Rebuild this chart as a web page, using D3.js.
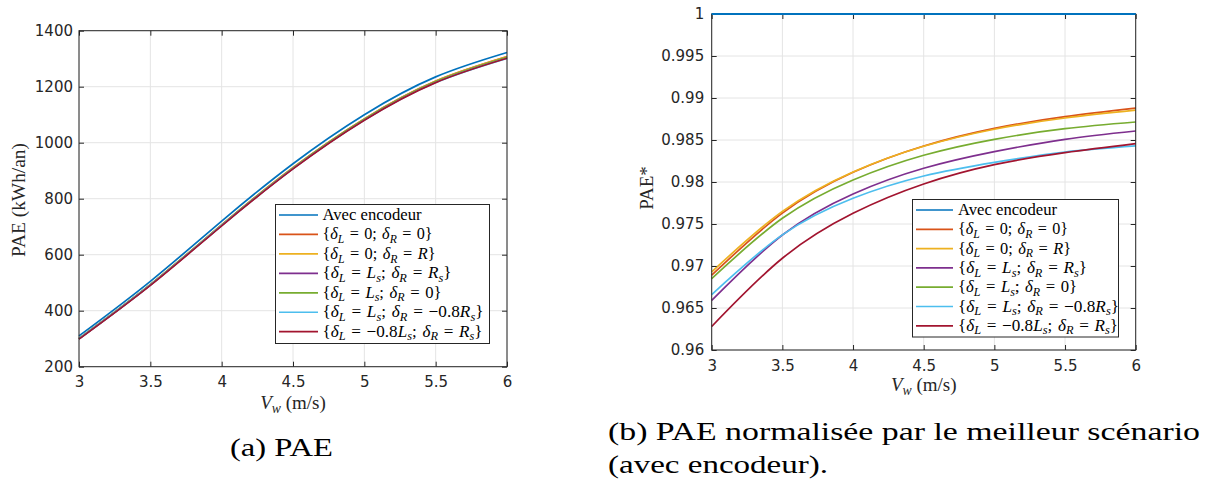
<!DOCTYPE html>
<html>
<head>
<meta charset="utf-8">
<script src="https://cdn.jsdelivr.net/npm/d3@7"></script>
<style>
  html, body { margin: 0; padding: 0; background: #fff; }
  svg { display: block; }
</style>
</head>
<body>
<svg id="chart" width="1211" height="480"></svg>
<script>
// ---------------- DATA ----------------
const windSpeeds = [3, 3.5, 4, 4.5, 5, 5.5, 6];

// (a) PAE in kWh/an
const paeAvecEncodeur = [310, 505, 720, 925, 1100, 1235, 1322];
const paeL0R0        = [300.4, 493.0, 706.4, 910.5, 1085.0, 1219.9, 1307.2];
const paeL0RR        = [300.5, 493.1, 706.5, 910.4, 1084.9, 1219.7, 1306.9];
const paeLsRs        = [299.4, 491.7, 704.6, 908.0, 1082.0, 1216.6, 1303.6];
const paeLs0         = [300.2, 492.7, 705.8, 909.4, 1083.6, 1218.1, 1305.0];
const paeLsM08Rs     = [299.6, 491.7, 704.2, 907.2, 1080.6, 1214.7, 1301.2];
const paeM08LsRs     = [298.5, 490.3, 702.9, 906.3, 1080.3, 1214.6, 1301.5];

// (b) normalised PAE*
const normAvecEncodeur = [1, 1, 1, 1, 1, 1, 1];
const normL0R0         = [0.9689, 0.9763, 0.98115, 0.98429, 0.98639, 0.98778, 0.98880];
const normL0RR         = [0.9693, 0.9765, 0.98120, 0.98425, 0.98628, 0.98762, 0.98855];
const normLsRs         = [0.9659, 0.97369, 0.97857, 0.98163, 0.98361, 0.98508, 0.98607];
const normLs0          = [0.9685, 0.97568, 0.98024, 0.98318, 0.98508, 0.98635, 0.98714];
const normLsM08Rs      = [0.9666, 0.9737, 0.97806, 0.98071, 0.98234, 0.98357, 0.98429];
const normM08LsRs      = [0.9628, 0.97092, 0.97627, 0.97976, 0.98206, 0.98349, 0.98456];

const xTicks = [3, 3.5, 4, 4.5, 5, 5.5, 6];
const yTicksA = [200, 400, 600, 800, 1000, 1200, 1400];
const yTicksB = [0.96, 0.965, 0.97, 0.975, 0.98, 0.985, 0.99, 0.995, 1];

// legend labels as math segments: n = upright, i = italic, s = italic subscript
const EQ = "\u2004=\u2004";
const SC = ";\u2004";
const legendLabels = [
  [["Avec encodeur", "n"]],
  [["{", "n"], ["δ", "i"], ["L", "s"], [EQ + "0" + SC, "n"], ["δ", "i"], ["R", "s"], [EQ + "0}", "n"]],
  [["{", "n"], ["δ", "i"], ["L", "s"], [EQ + "0" + SC, "n"], ["δ", "i"], ["R", "s"], [EQ, "n"], ["R", "i"], ["}", "n"]],
  [["{", "n"], ["δ", "i"], ["L", "s"], [EQ, "n"], ["L", "i"], ["s", "s"], [SC, "n"], ["δ", "i"], ["R", "s"], [EQ, "n"], ["R", "i"], ["s", "s"], ["}", "n"]],
  [["{", "n"], ["δ", "i"], ["L", "s"], [EQ, "n"], ["L", "i"], ["s", "s"], [SC, "n"], ["δ", "i"], ["R", "s"], [EQ + "0}", "n"]],
  [["{", "n"], ["δ", "i"], ["L", "s"], [EQ, "n"], ["L", "i"], ["s", "s"], [SC, "n"], ["δ", "i"], ["R", "s"], [EQ + "−0.8", "n"], ["R", "i"], ["s", "s"], ["}", "n"]],
  [["{", "n"], ["δ", "i"], ["L", "s"], [EQ + "−0.8", "n"], ["L", "i"], ["s", "s"], [SC, "n"], ["δ", "i"], ["R", "s"], [EQ, "n"], ["R", "i"], ["s", "s"], ["}", "n"]]
];
const legendWidths = [99, 110, 113, 129, 119, 161, 160];

const seriesA = [paeAvecEncodeur, paeL0R0, paeL0RR, paeLsRs, paeLs0, paeLsM08Rs, paeM08LsRs];
const seriesB = [normAvecEncodeur, normL0R0, normL0RR, normLsRs, normLs0, normLsM08Rs, normM08LsRs];
const colors = ["#0072BD", "#D95319", "#EDB120", "#7E2F8E", "#77AC30", "#4DBEEE", "#A2142F"];

// ---------------- DRAWING ----------------
const svg = d3.select("#chart");
const AXIS = "#262626";
const GRID = "#e4e4e4";
const SANS = "DejaVu Sans, sans-serif";
const SERIF = "Liberation Serif, serif";

function mathText(g, segs, x, y, fs) {
  const t = g.append("text").attr("x", x).attr("y", y)
    .style("font-family", SERIF).attr("font-size", fs).attr("fill", "#000");
  let shifted = 0;
  segs.forEach(([txt, st]) => {
    const sp = t.append("tspan").text(txt).style("white-space", "pre");
    if (st === "s") {
      sp.attr("font-style", "italic").attr("font-size", fs * 0.72);
      if (shifted === 0) { sp.attr("dy", fs * 0.22); shifted = fs * 0.22; }
    } else {
      if (st === "i") sp.attr("font-style", "italic");
      if (shifted !== 0) { sp.attr("dy", -shifted); shifted = 0; }
    }
  });
  return t;
}

function drawPanel(cfg) {
  const x = d3.scaleLinear().domain([3, 6]).range([cfg.x0, cfg.x1]);
  const y = d3.scaleLinear().domain(cfg.yDomain).range([cfg.y1, cfg.y0]);
  const g = svg.append("g");

  // grid
  g.append("g").selectAll("line").data(xTicks).join("line")
    .attr("x1", d => x(d)).attr("x2", d => x(d)).attr("y1", cfg.y0).attr("y2", cfg.y1)
    .attr("stroke", GRID).attr("stroke-width", 1);
  g.append("g").selectAll("line").data(cfg.yTicks).join("line")
    .attr("y1", d => y(d)).attr("y2", d => y(d)).attr("x1", cfg.x0).attr("x2", cfg.x1)
    .attr("stroke", GRID).attr("stroke-width", 1);

  // series
  const line = d3.line().x((d, i) => x(windSpeeds[i])).y(d => y(d)).curve(d3.curveNatural);
  cfg.series.forEach((s, i) => {
    g.append("path").datum(s).attr("d", line).attr("fill", "none")
      .attr("stroke", colors[i]).attr("stroke-width", 1.7);
  });

  // axes
  const styleAxis = a => {
    a.select(".domain").remove();
    a.selectAll(".tick line").attr("stroke", AXIS);
    a.selectAll("text").style("font-family", SANS).attr("font-size", 15).attr("fill", AXIS);
  };
  g.append("g").attr("transform", `translate(0,${cfg.y1})`)
    .call(d3.axisBottom(x).tickValues(xTicks).tickSize(-5).tickPadding(10).tickFormat(d3.format("")))
    .call(styleAxis);
  g.append("g").attr("transform", `translate(0,${cfg.y0})`)
    .call(d3.axisTop(x).tickValues(xTicks).tickSize(-5).tickFormat(""))
    .call(styleAxis);
  g.append("g").attr("transform", `translate(${cfg.x0},0)`)
    .call(d3.axisLeft(y).tickValues(cfg.yTicks).tickSize(-5).tickPadding(cfg.pad).tickFormat(cfg.fmt))
    .call(styleAxis);
  g.append("g").attr("transform", `translate(${cfg.x1},0)`)
    .call(d3.axisRight(y).tickValues(cfg.yTicks).tickSize(-5).tickFormat(""))
    .call(styleAxis);
  g.append("rect").attr("x", cfg.x0).attr("y", cfg.y0)
    .attr("width", cfg.x1 - cfg.x0).attr("height", cfg.y1 - cfg.y0)
    .attr("fill", "none").attr("stroke", AXIS).attr("stroke-width", 1);

  if (cfg.topSeries) {
    g.append("path").datum(cfg.series[0]).attr("d", line).attr("fill", "none")
      .attr("stroke", colors[0]).attr("stroke-width", 2);
  }

  // axis labels
  const xl = mathText(g, [["V", "i"], ["w", "s"], [" (m/s)", "n"]], 0, 0, 19);
  xl.attr("text-anchor", "middle").attr("x", (cfg.x0 + cfg.x1) / 2).attr("y", cfg.xLabelY).attr("fill", AXIS);
  const yl = g.append("text").attr("transform", `translate(${cfg.yLabelX},${cfg.yLabelY}) rotate(-90)`)
    .attr("text-anchor", "middle").attr("dominant-baseline", "central")
    .style("font-family", SERIF).attr("font-size", 19).attr("fill", AXIS).text(cfg.yLabel);
  if (cfg.yLabelLen) yl.attr("textLength", cfg.yLabelLen).attr("lengthAdjust", "spacingAndGlyphs");

  // legend
  const lg = g.append("g");
  lg.append("rect").attr("x", cfg.lx0).attr("y", cfg.ly0)
    .attr("width", cfg.lx1 - cfg.lx0).attr("height", cfg.ly1 - cfg.ly0)
    .attr("fill", "#fff").attr("stroke", AXIS).attr("stroke-width", 1);
  legendLabels.forEach((lab, i) => {
    const yy = cfg.lRow0 + i * cfg.lStep;
    lg.append("line").attr("x1", cfg.lLine0).attr("x2", cfg.lLine1).attr("y1", yy).attr("y2", yy)
      .attr("stroke", colors[i]).attr("stroke-width", 1.7);
    mathText(lg, lab, cfg.lText, yy + 5, 16.5)
      .attr("textLength", legendWidths[i]).attr("lengthAdjust", "spacingAndGlyphs");
  });
}

drawPanel({
  x0: 79, x1: 507, y0: 30.7, y1: 366.7, yDomain: [200, 1400], yTicks: yTicksA,
  series: seriesA, fmt: d3.format(""), pad: 6,
  xLabelY: 409, yLabelX: 18, yLabelY: 200, yLabel: "PAE (kWh/an)", yLabelLen: 114,
  lx0: 275.5, lx1: 489.5, ly0: 204.5, ly1: 343.5,
  lRow0: 215, lStep: 19.45, lLine0: 279, lLine1: 318, lText: 322.5
});

drawPanel({
  x0: 711.7, x1: 1135.7, y0: 14, y1: 350, yDomain: [0.96, 1], yTicks: yTicksB,
  series: seriesB, fmt: d => d3.format("")(+d.toFixed(3)), pad: 7.5, topSeries: true,
  xLabelY: 391, yLabelX: 646, yLabelY: 188, yLabel: "PAE*",
  lx0: 912.5, lx1: 1118.5, ly0: 199.5, ly1: 337,
  lRow0: 210, lStep: 19.3, lLine0: 916, lLine1: 953, lText: 958
});

// captions
const cap = svg.append("g").style("font-family", SERIF).attr("font-size", 25).attr("fill", "#000");
cap.append("text").attr("x", 230).attr("y", 456).attr("textLength", 103)
  .attr("lengthAdjust", "spacingAndGlyphs").text("(a) PAE");
cap.append("text").attr("x", 608).attr("y", 440).attr("textLength", 592)
  .attr("lengthAdjust", "spacingAndGlyphs").text("(b) PAE normalisée par le meilleur scénario");
cap.append("text").attr("x", 608).attr("y", 473).attr("textLength", 220)
  .attr("lengthAdjust", "spacingAndGlyphs").text("(avec encodeur).");
</script>
</body>
</html>
